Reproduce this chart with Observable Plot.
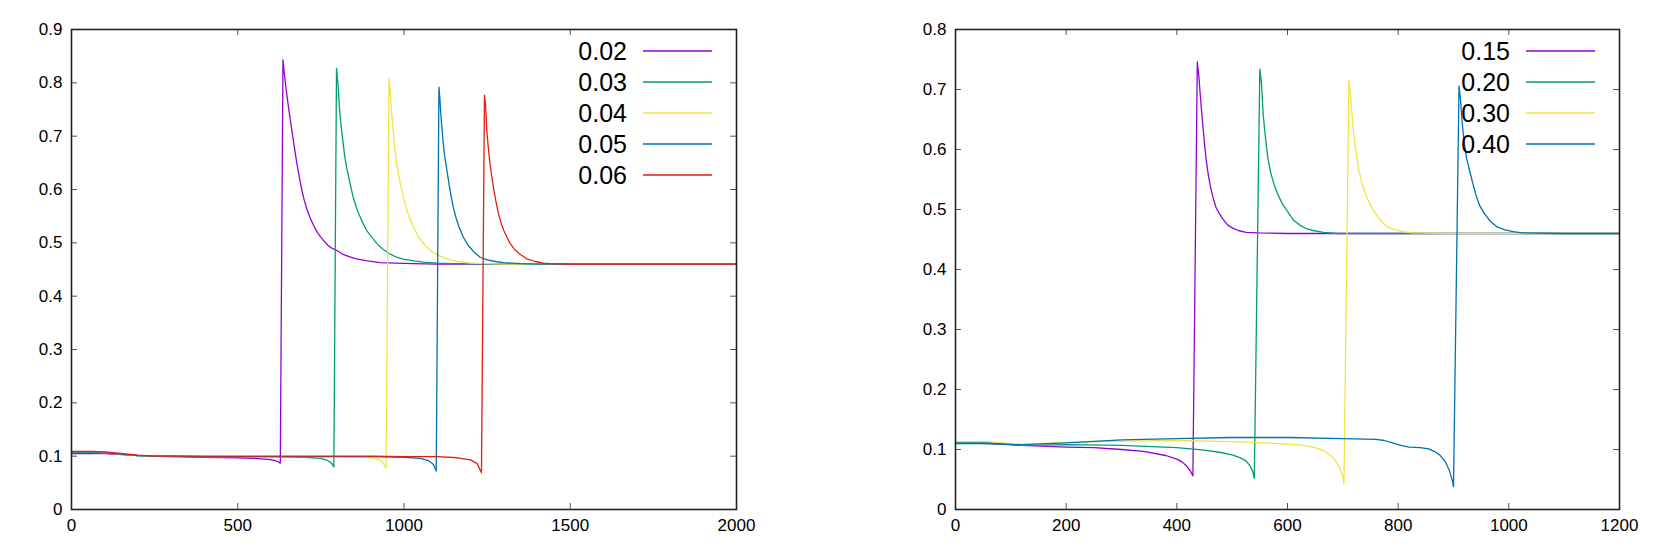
<!DOCTYPE html>
<html><head><meta charset="utf-8">
<script src="https://cdn.jsdelivr.net/npm/d3@7"></script>
<script src="https://cdn.jsdelivr.net/npm/@observablehq/plot@0.6"></script>
<style>
body{margin:0;background:#fff;width:1661px;height:553px;overflow:hidden;position:relative;font-family:"Liberation Sans",Arial,sans-serif}
#left{position:absolute;left:0;top:0}
#right{position:absolute;left:830px;top:0}
</style></head><body>
<div id="left"></div><div id="right"></div>
<script>
// ---------- Left panel data ----------
const leftLabels = ["0.02", "0.03", "0.04", "0.05", "0.06"];
const leftColors = ["#9400d3", "#009e73", "#f0e442", "#0072b2", "#e51e10"];
const leftXTicks = [0, 500, 1000, 1500, 2000];
const leftYTicks = [0, 0.1, 0.2, 0.3, 0.4, 0.5, 0.6, 0.7, 0.8, 0.9];

const x002 = [0, 60, 100, 150, 200, 250, 300, 400, 500, 550, 590, 610, 620, 628,
  636, 640, 644, 648, 652, 657, 662, 667, 672, 677, 682, 687, 693, 700, 708, 717, 727, 737, 747, 757, 770, 783, 797, 815, 835, 857, 890, 928, 975, 1028, 1100, 1500, 2000];
const y002 = [0.105, 0.105, 0.105, 0.103, 0.101, 0.100, 0.099, 0.098, 0.097, 0.096, 0.094, 0.092, 0.090, 0.087,
  0.843, 0.818, 0.796, 0.776, 0.757, 0.735, 0.714, 0.693, 0.672, 0.652, 0.634, 0.617, 0.598, 0.580, 0.563, 0.548, 0.534, 0.522, 0.513, 0.505, 0.496, 0.490, 0.486, 0.479, 0.474, 0.470, 0.466, 0.463, 0.462, 0.461, 0.460, 0.460, 0.460];
const x003 = [0, 60, 100, 150, 200, 250, 300, 400, 500, 600, 700, 750, 770, 782, 789,
  797, 801, 804, 807, 811, 816, 822, 828, 835, 841, 847, 855, 862, 870, 877, 888, 900, 918, 935, 955, 978, 1000, 1030, 1058, 1100, 1150, 1300, 2000];
const y003 = [0.108, 0.108, 0.107, 0.104, 0.101, 0.100, 0.100, 0.099, 0.099, 0.099, 0.098, 0.096, 0.092, 0.087, 0.080,
  0.827, 0.800, 0.772, 0.743, 0.718, 0.692, 0.661, 0.640, 0.619, 0.602, 0.586, 0.570, 0.557, 0.546, 0.536, 0.523, 0.513, 0.499, 0.489, 0.480, 0.473, 0.469, 0.466, 0.464, 0.462, 0.461, 0.460, 0.460];
const x004 = [0, 60, 100, 150, 200, 250, 300, 400, 500, 600, 700, 800, 880, 920, 936, 946,
  955, 958, 960, 963, 967, 972, 978, 984, 991, 998, 1006, 1016, 1028, 1040, 1054, 1068, 1085, 1105, 1129, 1160, 1199, 1250, 1300, 2000];
const y004 = [0.107, 0.107, 0.106, 0.104, 0.101, 0.100, 0.100, 0.099, 0.099, 0.099, 0.099, 0.099, 0.098, 0.095, 0.089, 0.077,
  0.809, 0.790, 0.770, 0.743, 0.712, 0.678, 0.649, 0.626, 0.605, 0.586, 0.567, 0.548, 0.530, 0.515, 0.502, 0.492, 0.483, 0.476, 0.470, 0.465, 0.462, 0.461, 0.460, 0.460];
const x005 = [0, 60, 100, 150, 200, 250, 300, 400, 500, 600, 700, 800, 900, 1000, 1050, 1075, 1088, 1097,
  1105, 1108, 1110, 1113, 1117, 1122, 1129, 1135, 1141, 1148, 1156, 1166, 1178, 1192, 1210, 1229, 1250, 1275, 1299, 1350, 1400, 2000];
const y005 = [0.106, 0.106, 0.106, 0.104, 0.101, 0.100, 0.100, 0.099, 0.099, 0.099, 0.099, 0.099, 0.099, 0.098, 0.096, 0.091, 0.085, 0.072,
  0.792, 0.770, 0.748, 0.724, 0.693, 0.664, 0.636, 0.612, 0.590, 0.567, 0.548, 0.529, 0.511, 0.496, 0.483, 0.473, 0.468, 0.465, 0.463, 0.461, 0.460, 0.460];
const x006 = [0, 60, 100, 150, 200, 250, 300, 400, 500, 600, 700, 800, 900, 1000, 1100, 1160, 1200, 1220, 1233,
  1242, 1245, 1247, 1249, 1253, 1258, 1264, 1270, 1277, 1284, 1292, 1300, 1310, 1319, 1332, 1350, 1369, 1395, 1420, 1440, 1500, 2000];
const y006 = [0.109, 0.109, 0.108, 0.105, 0.102, 0.100, 0.100, 0.100, 0.100, 0.100, 0.100, 0.100, 0.100, 0.099, 0.099, 0.097, 0.093, 0.086, 0.069,
  0.777, 0.760, 0.737, 0.711, 0.682, 0.652, 0.624, 0.600, 0.576, 0.555, 0.537, 0.523, 0.510, 0.499, 0.488, 0.478, 0.470, 0.465, 0.462, 0.461, 0.460, 0.460];

// ---------- Right panel data ----------
const rightLabels = ["0.15", "0.20", "0.30", "0.40"];
const rightColors = ["#9400d3", "#009e73", "#f0e442", "#0072b2"];
const rightXTicks = [0, 200, 400, 600, 800, 1000, 1200];
const rightYTicks = [0, 0.1, 0.2, 0.3, 0.4, 0.5, 0.6, 0.7, 0.8];

const x015 = [0, 60, 120, 200, 250, 300, 340, 380, 400, 410, 418, 424, 429,
  437, 440, 442, 444, 447, 450, 453, 457, 461, 466, 471, 477, 484, 492, 501, 511, 525, 547, 600, 1200];
const y015 = [0.111, 0.110, 0.107, 0.104, 0.103, 0.100, 0.097, 0.090, 0.084, 0.079, 0.072, 0.065, 0.056,
  0.746, 0.720, 0.695, 0.671, 0.640, 0.610, 0.583, 0.557, 0.537, 0.518, 0.503, 0.493, 0.483, 0.474, 0.469, 0.465, 0.462, 0.461, 0.460, 0.460];
const x020 = [0, 60, 120, 200, 300, 400, 450, 480, 500, 515, 525, 532, 537, 540,
  550, 553, 554.5, 556, 559, 562, 565, 570, 576, 583, 591, 600, 610, 622, 634, 646, 665, 691, 1200];
const y020 = [0.112, 0.111, 0.107, 0.108, 0.107, 0.103, 0.099, 0.095, 0.091, 0.086, 0.081, 0.073, 0.064, 0.052,
  0.734, 0.710, 0.685, 0.659, 0.630, 0.605, 0.583, 0.560, 0.541, 0.524, 0.509, 0.497, 0.483, 0.474, 0.468, 0.465, 0.462, 0.460, 0.460];
const x030 = [0, 60, 120, 200, 300, 400, 500, 540, 560, 600, 630, 650, 665, 678, 688, 695, 700, 702,
  711, 714, 716, 718, 721, 725, 729, 735, 742, 750, 759, 770, 781, 795, 810, 826, 900, 1200];
const y030 = [0.113, 0.113, 0.108, 0.112, 0.114, 0.115, 0.113, 0.112, 0.111, 0.109, 0.107, 0.103, 0.098, 0.090, 0.080, 0.068, 0.054, 0.043,
  0.715, 0.690, 0.665, 0.641, 0.615, 0.588, 0.565, 0.542, 0.523, 0.507, 0.493, 0.480, 0.471, 0.466, 0.463, 0.461, 0.460, 0.460];
const x040 = [0, 60, 120, 200, 300, 400, 500, 600, 700, 760, 775, 790, 805, 820, 840, 855, 865, 875, 885, 893, 898, 900,
  910, 913, 914.5, 916, 919, 923, 929, 935, 941, 947, 956, 967, 979, 993, 1008, 1024, 1100, 1200];
const y040 = [0.110, 0.110, 0.108, 0.111, 0.116, 0.118, 0.120, 0.120, 0.118, 0.117, 0.115, 0.111, 0.107, 0.104, 0.103, 0.101, 0.097, 0.091, 0.080, 0.064, 0.048, 0.038,
  0.706, 0.680, 0.660, 0.641, 0.615, 0.588, 0.565, 0.543, 0.523, 0.507, 0.493, 0.480, 0.471, 0.466, 0.463, 0.461, 0.460, 0.460];

const leftSeries = [[x002, y002], [x003, y003], [x004, y004], [x005, y005], [x006, y006]]
  .map(([xs, ys], i) => ({label: leftLabels[i], color: leftColors[i], xs, ys}));
const rightSeries = [[x015, y015], [x020, y020], [x030, y030], [x040, y040]]
  .map(([xs, ys], i) => ({label: rightLabels[i], color: rightColors[i], xs, ys}));

const FONT = "Liberation Sans, Arial, Helvetica, sans-serif";

function panel(series, {xDomain, yDomain, xTicks, yTicks, width, marginLeft, marginRight}) {
  const H = 553, mt = 29, mb = 44;
  const plotW = width - marginLeft - marginRight;
  const plotH = H - mt - mb;
  const data = series.flatMap(s => s.xs.map((x, i) => ({x, y: s.ys[i], key: s.label})));
  const yfmt = d => d === 0 ? "0" : d3.format(".1f")(d);
  const chart = Plot.plot({
    width, height: H, marginLeft, marginRight, marginTop: mt, marginBottom: mb,
    style: {fontFamily: FONT, fontSize: "17px", color: "#000", background: "#fff"},
    x: {domain: xDomain, label: null},
    y: {domain: yDomain, label: null},
    color: {domain: series.map(s => s.label), range: series.map(s => s.color)},
    marks: [
      Plot.axisX(xTicks, {anchor: "bottom", tickSize: 0, tickPadding: 9, fontSize: 17, tickFormat: d => String(d), label: null}),
      Plot.axisY(yTicks, {anchor: "left", tickSize: 0, tickPadding: 9, fontSize: 17, tickFormat: yfmt, label: null}),
      Plot.tickX(xTicks, {x: d => d, insetTop: plotH - 6, stroke: "#555", strokeWidth: 1}),
      Plot.tickX(xTicks, {x: d => d, insetBottom: plotH - 6, stroke: "#555", strokeWidth: 1}),
      Plot.tickY(yTicks, {y: d => d, insetRight: plotW - 6, stroke: "#555", strokeWidth: 1}),
      Plot.tickY(yTicks, {y: d => d, insetLeft: plotW - 6, stroke: "#555", strokeWidth: 1}),
      Plot.line(data, {x: "x", y: "y", z: "key", stroke: "key", strokeWidth: 1.3, curve: "linear"}),
      Plot.frame({stroke: "#222", strokeWidth: 1.6})
    ]
  });
  // key (legend) inside the top-right of the frame
  const svg = d3.select(chart.tagName === "svg" ? chart : chart.querySelector("svg"));
  const right = width - marginRight;
  const g = svg.append("g").attr("font-family", FONT).attr("font-size", 25);
  series.forEach((s, i) => {
    const yy = mt + 22 + i * 31;
    g.append("text").attr("x", right - 109).attr("y", yy).attr("dy", "0.36em")
      .attr("text-anchor", "end").attr("fill", "#000").text(s.label);
    g.append("line").attr("x1", right - 93).attr("x2", right - 24)
      .attr("y1", yy).attr("y2", yy).attr("stroke", s.color).attr("stroke-width", 1.6);
  });
  return chart;
}

document.getElementById("left").append(panel(leftSeries, {
  xDomain: [0, 2000], yDomain: [0, 0.9], xTicks: leftXTicks, yTicks: leftYTicks,
  width: 830, marginLeft: 71, marginRight: 94
}));
document.getElementById("right").append(panel(rightSeries, {
  xDomain: [0, 1200], yDomain: [0, 0.8], xTicks: rightXTicks, yTicks: rightYTicks,
  width: 831, marginLeft: 125, marginRight: 42
}));
</script></body></html>
